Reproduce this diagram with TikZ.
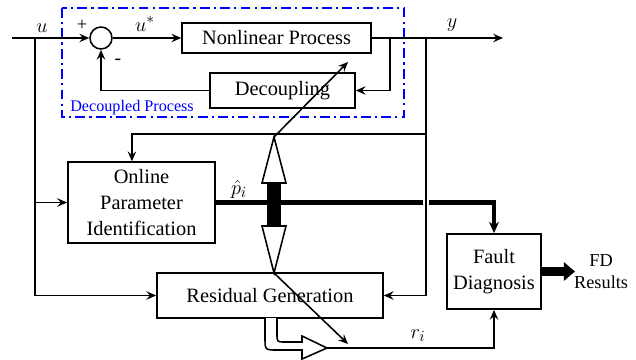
\documentclass[tikz,border=0pt]{standalone}
\usepackage{fontspec}
\setmainfont{Liberation Serif}
\usepackage{xcolor}
\usetikzlibrary{arrows.meta,positioning,calc}
\definecolor{dpblue}{HTML}{0000FF}

\begin{document}
\begin{tikzpicture}[
        x=0.025cm, y=-0.025cm,
        box/.style={
          draw,
          align=center,
          inner sep=2pt,
          font=\fontsize{14.5}{18.5}\selectfont,
          line width=1.1pt
        },
        sumnode/.style={
          draw,
          circle,
          minimum size=0.55cm,
          inner sep=0pt,
          line width=1.1pt
        },
        dpbox/.style={
          draw=dpblue,
          line width=1.5pt,
          dash pattern=on 7pt off 3pt on 1.5pt off 3pt
        },
        lbl/.style={
          font=\fontsize{15}{17}\selectfont,
          inner sep=0pt
        },
        arrow/.style={
          -{Stealth[length=7pt,width=6pt,inset=2.5pt]},
          line width=1.1pt
        },
        thickarrow/.style={
          -{Stealth[length=8pt,width=7pt,inset=2.5pt]},
          line width=3.5pt
        },
        fatarrow/.style={
          -{Triangle[length=8pt,width=13pt]},
          line width=5.7pt
        },
        hollow/.style={
          draw,
          fill=white,
          line width=1.1pt,
          line join=miter
        }
      ]

      \useasboundingbox (0,0) rectangle (636,360);

      \draw[dpbox] (62,8) rectangle (404,117);
      \node[anchor=base west, text=dpblue, inner sep=0pt,
            font=\fontsize{11.5}{13}\selectfont] (dplabel) at (70,112) {Decoupled Process};

      \node[sumnode] (sum) at (101,38) {};
      \node[box, minimum width=4.72cm, minimum height=0.75cm] (nlp) at (276.5,38) {Nonlinear Process};
      \node[box, minimum width=3.62cm, minimum height=0.88cm] (dec) at (282.5,90.5) {Decoupling};
      \node[box, minimum width=3.68cm, minimum height=2.02cm] (opi) at (141.5,202.5) {Online\\Parameter\\Identification};
      \node[box, minimum width=5.65cm, minimum height=1.12cm] (res) at (270,295.5) {Residual Generation};
      \node[box, minimum width=2.35cm, minimum height=1.88cm] (fd) at (494,271.5) {Fault\\Diagnosis};
      \node[box, draw=none, font=\fontsize{13}{15.6}\selectfont, right=0.72cm of fd] (fdres) {FD\\Results};

      \coordinate (uin) at (12,38);
      \coordinate (j0) at (35,38);
      \coordinate (j1) at (390,38);
      \coordinate (j2) at (426,38);
      \coordinate (j3) at (426,134);
      \coordinate (yout) at (503,38);
      \coordinate (ptop) at (274,137);
      \coordinate (pbot) at (274,273);
      \coordinate (pnlp) at (348,62);
      \coordinate (pres) at (348,344);
      \coordinate (rtip) at (327,348);
      \coordinate (fdout) at (575,271.5);

      \draw[arrow] (uin) -- (sum);
      \draw[arrow] (sum) -- (nlp);
      \draw[arrow] (j1) |- (dec.east);
      \draw[arrow] (dec.west) -| (sum.south);
      \draw[arrow] (j0) |- (res.west);
      \draw[arrow] (j0 |- opi.west) -- (opi.west);

      \draw[thickarrow] (opi.east) -| (fd.north);
      \draw[arrow, preaction={draw=white, line width=4.5pt, -}] (j2) |- (res.east);
      \draw[arrow] (nlp) -- (yout);
      \draw[arrow] (j3) -| ([xshift=-0.24cm]opi.north);

      \fill (267,182) rectangle (281,227);
      \draw[hollow] (262,183) -- (ptop) -- (286,183) -- cycle;
      \draw[hollow] (262,226) -- (286,226) -- (pbot) -- cycle;
      \draw[arrow] (ptop) -- (pnlp);
      \draw[arrow] (pbot) -- (pres);

      \draw[hollow] (265,318) -- (265,338) .. controls (265,350) .. (277,350)
        -- (302,350) -- (302,359) -- (rtip) -- (302,336) -- (302,342)
        -- (285,342) .. controls (277,342) .. (277,334) -- (277,318);
      \draw[arrow] (rtip) -| (fd.south);
      \draw[fatarrow] (fd.east) -- (fdout);

      \node[lbl] (ulbl) at (42,28) {$u$};
      \node[lbl] (ustar) at (145,24) {$u^{*}$};
      \node[lbl] (ylbl) at (452,25) {$y$};
      \node[lbl] (plbl) at (239,189) {$\hat{p}_i$};
      \node[lbl] (rlbl) at (418,336) {$r_i$};
      \node[lbl, font=\fontsize{13}{15}\selectfont] (plus) at (82,25) {+};
      \node[lbl, font=\fontsize{14}{15}\selectfont] (minus) at (118,62) {-};

      \end{tikzpicture}
\end{document}
